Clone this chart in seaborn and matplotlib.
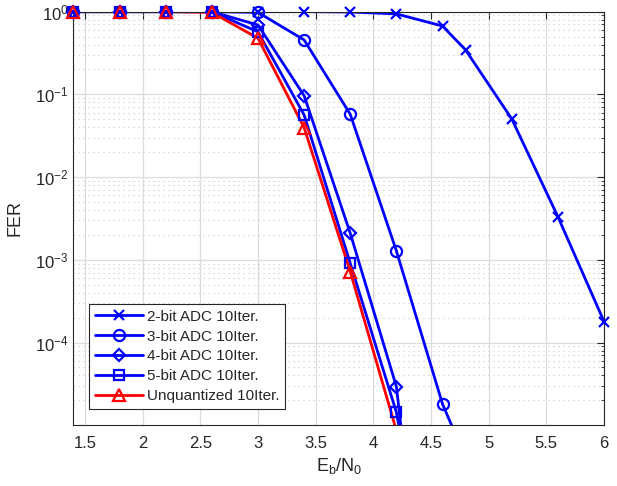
#!/usr/bin/env python3
"""FER versus Eb/N0 for several ADC resolutions (10 decoder iterations)."""

import matplotlib

matplotlib.use("Agg")
import matplotlib.pyplot as plt
import matplotlib.ticker as mticker
import pandas as pd
import seaborn as sns

SERIES = [
    "2-bit ADC 10Iter.",
    "3-bit ADC 10Iter.",
    "4-bit ADC 10Iter.",
    "5-bit ADC 10Iter.",
    "Unquantized 10Iter.",
]

EBN0_2BIT = [1.4, 1.8, 2.2, 2.6, 3.0, 3.4, 3.8, 4.2, 4.6, 4.8, 5.2, 5.6, 6.0]
FER_2BIT = [1.0, 1.0, 1.0, 1.0, 1.0, 1.0, 0.99, 0.94, 0.67, 0.344, 0.0505, 3.32e-3, 1.79e-4]

EBN0_3BIT = [1.4, 1.8, 2.2, 2.6, 3.0, 3.4, 3.8, 4.2, 4.6, 5.0]
FER_3BIT = [1.0, 1.0, 1.0, 1.0, 0.98, 0.455, 0.0574, 1.28e-3, 1.8e-5, 9e-7]

EBN0_4BIT = [1.4, 1.8, 2.2, 2.6, 3.0, 3.4, 3.8, 4.2, 4.6]
FER_4BIT = [1.0, 1.0, 1.0, 1.0, 0.69, 0.0964, 2.09e-3, 2.92e-5, 4e-10]

EBN0_5BIT = [1.4, 1.8, 2.2, 2.6, 3.0, 3.4, 3.8, 4.2, 4.6]
FER_5BIT = [1.0, 1.0, 1.0, 1.0, 0.57, 0.0564, 9.07e-4, 1.43e-5, 1.6e-8]

EBN0_UNQ = [1.4, 1.8, 2.2, 2.6, 3.0, 3.4, 3.8, 4.2]
FER_UNQ = [1.0, 1.0, 1.0, 0.98, 0.477, 0.0396, 7.18e-4, 8.6e-6]

MARKERS = dict(zip(SERIES, ["x", "o", "D", "s", "^"]))
MARKER_SIZES = dict(zip(SERIES, [7, 8, 6.5, 6.5, 8.5]))
COLORS = dict(zip(SERIES, ["#0000ff", "#0000ff", "#0000ff", "#0000ff", "#ff0000"]))

Y_MIN = 1.02e-5


def build_frame() -> pd.DataFrame:
    frames = []
    for name, x, y in zip(
        SERIES,
        [EBN0_2BIT, EBN0_3BIT, EBN0_4BIT, EBN0_5BIT, EBN0_UNQ],
        [FER_2BIT, FER_3BIT, FER_4BIT, FER_5BIT, FER_UNQ],
    ):
        frames.append(pd.DataFrame({"ebn0": x, "fer": y, "series": name}))
    return pd.concat(frames, ignore_index=True)


def main() -> None:
    df = build_frame()

    sns.set_style("white")
    plt.rcParams["font.family"] = ["Liberation Sans", "DejaVu Sans"]
    plt.rcParams["mathtext.fontset"] = "custom"
    plt.rcParams["mathtext.rm"] = "Liberation Sans"
    plt.rcParams["mathtext.it"] = "Liberation Sans"

    fig = plt.figure(figsize=(6.17, 4.86), dpi=100)
    ax = fig.add_axes([0.119, 0.1265, 0.860, 0.8495])
    ax.set_yscale("log")

    handles = []
    for name in SERIES:
        col = COLORS[name]
        sub = df[df["series"] == name]
        # line, clipped at the axes
        sns.lineplot(data=sub, x="ebn0", y="fer", color=col, linewidth=2.0,
                     errorbar=None, ax=ax)
        # markers inside the range, drawn over the frame like MATLAB does
        sns.lineplot(
            data=sub[sub["fer"] >= Y_MIN],
            x="ebn0",
            y="fer",
            color=col,
            marker=MARKERS[name],
            markersize=MARKER_SIZES[name],
            markerfacecolor="none",
            markeredgecolor=col,
            markeredgewidth=1.6,
            linestyle="none",
            errorbar=None,
            clip_on=False,
            ax=ax,
        )
        mk = ax.lines[-1]
        mk.set_zorder(3)
        handles.append((ax.lines[-2], mk))

    ax.set_xlim(1.4, 6.0)
    ax.set_ylim(Y_MIN, 1.0)
    ax.xaxis.set_major_locator(mticker.MultipleLocator(0.5))
    ax.xaxis.set_major_formatter(mticker.FuncFormatter(lambda v, p: f"{v:g}"))
    ax.set_yticks([1e-4, 1e-3, 1e-2, 1e-1, 1e0])
    ax.set_yticklabels([r"$\mathregular{10^{-4}}$", r"$\mathregular{10^{-3}}$",
                        r"$\mathregular{10^{-2}}$", r"$\mathregular{10^{-1}}$",
                        r"$\mathregular{10^{0}}$"])
    ax.yaxis.set_minor_locator(mticker.LogLocator(base=10, subs=range(2, 10), numticks=20))
    ax.yaxis.set_minor_formatter(mticker.NullFormatter())

    ax.grid(True, which="major", color="#dcdcdc", linewidth=0.9, linestyle="-")
    ax.grid(True, which="minor", axis="y", color="#c8c8c8", linewidth=0.8, linestyle=(0, (1, 3.5)))
    ax.set_axisbelow(True)

    edge = "#262626"
    for sp in ax.spines.values():
        sp.set_color(edge)
        sp.set_linewidth(0.8)
    ax.tick_params(which="both", direction="in", top=True, right=True, colors=edge,
                   labelcolor=edge, labelsize=12)
    ax.tick_params(which="major", length=5, width=0.8)
    ax.tick_params(which="minor", length=2.5, width=0.6)
    ax.tick_params(axis="x", pad=8)

    ax.set_xlabel(r"$\mathregular{E_b/N_0}$", fontsize=13, color=edge, labelpad=4)
    ax.set_ylabel("FER", fontsize=13, color=edge, labelpad=8)

    leg = ax.legend(
        handles,
        SERIES,
        loc="lower left",
        bbox_to_anchor=(0.03, 0.0375),
        borderaxespad=0,
        fontsize=11,
        handlelength=3.1,
        handletextpad=0.25,
        labelspacing=0.38,
        borderpad=0.4,
        numpoints=1,
        fancybox=False,
        framealpha=1,
        edgecolor=edge,
    )
    leg.get_frame().set_linewidth(0.8)
    leg.set_zorder(5)

    fig.savefig("out.png", dpi=100)


if __name__ == "__main__":
    main()
